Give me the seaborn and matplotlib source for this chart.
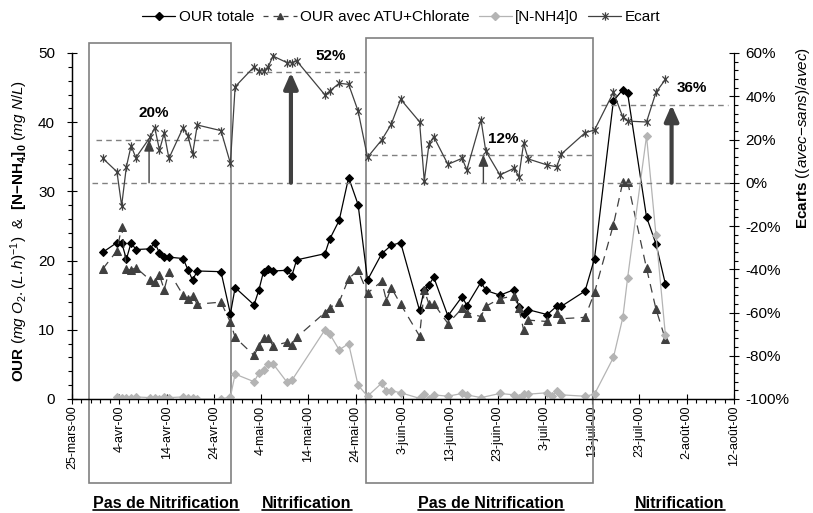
import pandas as pd
import matplotlib
matplotlib.use('Agg')
import matplotlib.pyplot as plt
import matplotlib.dates as mdates
import seaborn as sns
from matplotlib.patches import Rectangle
from matplotlib.lines import Line2D
from matplotlib.path import Path
from matplotlib.ticker import FixedLocator, MultipleLocator, PercentFormatter

# jours comptes depuis le 25 mars 2000
debut = pd.Timestamp('2000-03-25')
fin = pd.Timestamp('2000-08-12')

jours_our = [6, 9, 10, 11, 12, 13, 16, 17, 18, 19, 20, 23, 24, 25, 26, 31, 33, 34,
             38, 39, 40, 41, 42, 45, 46, 47, 53, 54, 56, 58, 60, 62, 65, 67, 69,
             73, 74, 75, 76, 79, 82, 83, 86, 87, 90, 93, 94, 95, 96, 100, 102, 103,
             108, 110, 114, 116, 117, 121, 123, 125]
our_totale = [21.2, 22.6, 22.6, 20.2, 22.6, 21.6, 21.7, 22.6, 21.1, 20.5, 20.5,
              20.3, 18.7, 17.2, 18.5, 18.4, 12.3, 16.1, 13.6, 15.7, 18.4, 18.8, 18.5,
              18.6, 17.8, 20.1, 21.0, 23.1, 25.8, 32.0, 28.1, 17.2, 21.0, 22.2, 22.6,
              12.8, 15.8, 16.5, 17.6, 12.0, 14.8, 13.5, 16.9, 15.7, 15.0, 15.8, 13.3,
              12.3, 12.9, 12.2, 13.4, 13.4, 15.6, 20.3, 43.1, 44.7, 44.2, 26.3, 22.4, 16.6]

jours_atu = [6, 9, 10, 11, 12, 13, 16, 17, 18, 19, 20, 23, 24, 25, 26, 31, 33, 34,
             38, 39, 40, 41, 42, 45, 46, 47, 53, 54, 56, 58, 60, 62, 65, 66, 67, 69,
             73, 74, 75, 76, 79, 82, 83, 86, 87, 90, 93, 94, 95, 96, 100, 102, 103,
             108, 110, 114, 116, 117, 121, 123, 125]
our_atu = [18.8, 21.4, 24.9, 18.8, 18.6, 19.0, 17.2, 16.9, 17.9, 15.8, 18.4, 15.0,
           14.5, 14.9, 13.7, 14.0, 11.1, 8.9, 6.3, 7.6, 8.8, 8.8, 7.7, 8.2, 7.8, 8.9,
           12.5, 13.2, 14.0, 17.4, 18.6, 15.3, 17.0, 14.2, 16.1, 13.7, 9.1, 15.7, 13.7,
           13.8, 10.9, 13.1, 12.5, 11.9, 13.4, 14.5, 14.9, 13.1, 10.0, 11.4, 11.2, 12.4,
           11.6, 11.8, 15.4, 25.2, 31.4, 31.4, 18.9, 13.0, 8.6]

jours_nh4 = [9, 10, 11, 12, 13, 16, 17, 18, 19, 20, 23, 24, 25, 26, 31, 33, 34,
             38, 39, 40, 41, 42, 45, 46, 53, 54, 56, 58, 60, 62, 65, 66, 67, 69,
             73, 74, 75, 76, 79, 82, 83, 86, 90, 93, 94, 95, 96, 100, 101, 102, 103,
             108, 110, 114, 116, 117, 121, 123, 125]
nh4 = [0.3, 0.1, 0.1, 0.2, 0.3, 0.2, 0.1, 0.0, 0.3, 0.2, 0.3, 0.2, 0.1, 0.0, 0.0,
       0.3, 3.6, 2.5, 3.7, 4.2, 5.0, 5.1, 2.4, 2.7, 10.0, 9.4, 7.1, 8.0, 2.0, 0.4,
       2.3, 1.1, 1.2, 0.9, 0.1, 0.7, 0.0, 0.6, 0.4, 0.8, 0.6, 0.2, 0.8, 0.6, 0.1,
       0.7, 0.7, 0.9, 0.4, 1.1, 0.6, 0.4, 0.7, 6.0, 11.8, 17.5, 38.0, 23.7, 9.2]

jours_ecart = jours_our
ecart = [11.3, 5.1, -10.6, 7.4, 17.1, 11.6, 21.0, 25.5, 15.1, 22.9, 11.3, 25.5, 21.8,
         13.3, 26.7, 24.1, 9.0, 44.4, 53.6, 51.7, 51.8, 53.6, 58.6, 55.5, 55.5, 56.4,
         40.6, 42.4, 46.0, 45.5, 33.2, 11.8, 19.8, 27.0, 38.6, 28.2, 0.9, 17.9, 21.3,
         8.5, 11.3, 5.9, 29.0, 14.7, 3.6, 6.7, 2.8, 18.2, 11.0, 8.2, 7.4, 13.3, 23.1,
         24.4, 41.8, 30.3, 28.5, 28.1, 41.8, 47.8]

tick_labels = ['25-mars-00', '4-avr-00', '14-avr-00', '24-avr-00', '4-mai-00',
               '14-mai-00', '24-mai-00', '3-juin-00', '13-juin-00', '23-juin-00',
               '3-juil-00', '13-juil-00', '23-juil-00', '2-août-00', '12-août-00']

# periodes sans nitrification (encadrees), en jours
periodes = [(3.6, 33.6), (62.2, 110.1)]
# ecarts moyens par periode
niveaux = [20, 51, 13, 36]
niveaux_txt = ['20%', '52%', '12%', '36%']
niveaux_de = [5.1, 34.9, 63.4, 111.8]
niveaux_a = [31.9, 62.2, 110.0, 138.7]
fleches = [16.3, 46.3, 87.0, 126.8]
periodes_txt = ['Pas de Nitrification', 'Nitrification', 'Pas de Nitrification', 'Nitrification']


def en_dates(jours):
    # Excel place les points entre les graduations -> +12 h
    return debut + pd.to_timedelta(jours, unit='D') + pd.Timedelta(hours=12)


def num(j):
    return mdates.date2num(debut + pd.Timedelta(days=j))


sns.set_style('white')
plt.rcParams['font.family'] = ['Liberation Sans', 'DejaVu Sans']
plt.rcParams['axes.unicode_minus'] = False
plt.rcParams['mathtext.fontset'] = 'custom'
plt.rcParams['mathtext.rm'] = 'Liberation Sans'
plt.rcParams['mathtext.it'] = 'Liberation Sans:italic'
plt.rcParams['mathtext.bf'] = 'Liberation Sans:bold'
for k in ['text.color', 'axes.labelcolor', 'xtick.color', 'ytick.color']:
    plt.rcParams[k] = 'black'

W, H = 813, 513
fig = plt.figure(figsize=(W / 100, H / 100), dpi=100)
ax = fig.add_axes([72 / W, 1 - 399 / H, 662 / W, 346 / H])
ax2 = ax.twinx()

noir = '#000000'
gris_fonce = '#404040'
gris_clair = '#b4b4b4'
etoile = Path([(0, -1), (0, 1), (-0.75, -0.75), (0.75, 0.75), (-0.75, 0.75), (0.75, -0.75)],
              [Path.MOVETO, Path.LINETO] * 3)

sns.lineplot(x=en_dates(jours_our), y=our_totale, ax=ax, color=noir, lw=0.9,
             marker='D', ms=4.5, mec=noir, mfc=noir, estimator=None, sort=False, legend=False, zorder=3)
sns.lineplot(x=en_dates(jours_atu), y=our_atu, ax=ax, color=gris_fonce, lw=0.9,
             linestyle=(0, (7, 5)), marker='^', ms=5.5, mec=gris_fonce, mfc=gris_fonce,
             estimator=None, sort=False, legend=False, zorder=3)
sns.lineplot(x=en_dates(jours_nh4), y=nh4, ax=ax, color=gris_clair, lw=0.9,
             marker='D', ms=4.5, mec=gris_clair, mfc=gris_clair, estimator=None, sort=False,
             legend=False, zorder=3)
sns.lineplot(x=en_dates(jours_ecart), y=ecart, ax=ax2, color=gris_fonce, lw=0.9,
             marker=etoile, ms=6, mew=0.9, mec=gris_fonce, estimator=None, sort=False,
             legend=False, zorder=4)

# lignes de reference et fleches
ax2.hlines(0, num(4.2), num(139.1), colors='#808080', linestyles=(0, (4, 3)), lw=1, zorder=1)
for niv, txt, d, a, f in zip(niveaux, niveaux_txt, niveaux_de, niveaux_a, fleches):
    ax2.hlines(niv, num(d), num(a), colors='#808080', linestyles=(0, (4, 3)), lw=1, zorder=1)
    epais = niv > 30
    style = '-|>,head_length=0.95,head_width=0.42' if epais else '-|>,head_length=0.7,head_width=0.3'
    ax2.annotate('', xy=(num(f), niv), xytext=(num(f), 0),
                 arrowprops=dict(arrowstyle=style, color=gris_fonce, lw=3 if epais else 1,
                                 mutation_scale=10, shrinkA=0, shrinkB=0), zorder=2)

pos_txt = [(17.2, 32.4), (54.7, 58.7), (91.2, 20.2), (131.1, 44.0)]
for txt, (px, py) in zip(niveaux_txt, pos_txt):
    ax2.text(num(px), py, txt, ha='center', va='center', fontsize=11, fontweight='bold')

# cadres des periodes sans nitrification
for (d, a), haut in zip(periodes, [1.029, 1.043]):
    ax.add_patch(Rectangle((num(d), -0.243), num(a) - num(d), haut + 0.243,
                           transform=ax.get_xaxis_transform(), fill=False,
                           ec='#808080', lw=1.2, clip_on=False, zorder=1))

# axes
ax.set_xlim(debut, fin)
ax.set_ylim(0, 50)
ax2.set_ylim(-100, 60)
ax.xaxis.set_major_locator(FixedLocator(mdates.date2num(pd.date_range(debut, fin, freq='10D'))))
ax.xaxis.set_minor_locator(FixedLocator(mdates.date2num(pd.date_range(debut, fin, freq='2D'))))
ax.set_xticklabels(tick_labels, rotation=90)
ax.yaxis.set_major_locator(MultipleLocator(10))
ax.yaxis.set_minor_locator(MultipleLocator(2))
ax2.yaxis.set_major_locator(MultipleLocator(20))
ax2.yaxis.set_minor_locator(MultipleLocator(4))
ax2.yaxis.set_major_formatter(PercentFormatter(100, decimals=0))
ax.set_xlabel('')
ax.set_ylabel('')
ax2.set_ylabel('')

for a in (ax, ax2):
    a.spines['top'].set_visible(False)
    for s in a.spines.values():
        s.set_color('black')
        s.set_linewidth(0.9)
ax.spines['right'].set_visible(False)

ax.tick_params(axis='both', which='major', direction='inout', length=6.5, width=0.8, color='black')
ax.tick_params(axis='both', which='minor', direction='out', length=3, width=0.8, color='black')
ax.tick_params(axis='y', which='both', left=True, labelsize=11, pad=9)
ax.tick_params(axis='x', which='both', bottom=True, labelsize=9, pad=1.5)
ax2.tick_params(axis='y', which='major', direction='inout', length=6.5, width=0.8, right=True,
                labelsize=11, pad=5)
ax2.tick_params(axis='y', which='minor', direction='out', length=3, width=0.8, right=True)

# titres des axes
fig.text(19 / W, 1 - 231 / H,
         r'$\mathbf{OUR}$ $\mathit{(mg\ O_2.(L.h)^{-1})}$  &  $\mathbf{[N{-}NH_4]_0}$ $\mathit{(mg\ N/L)}$',
         rotation=90, ha='center', va='center', fontsize=11)
fig.text(803 / W, 1 - 138 / H, r'$\mathbf{Ecarts}$ $\mathit{((avec{-}sans)/avec)}$',
         rotation=90, ha='center', va='center', fontsize=11)

# legende
poignees = [
    Line2D([], [], color=noir, lw=0.9, marker='D', ms=4, mfc=noir, mec=noir),
    Line2D([], [], color=gris_fonce, lw=0.9, ls=(0, (4, 4)), marker='^', ms=5, mfc=gris_fonce, mec=gris_fonce),
    Line2D([], [], color=gris_clair, lw=0.9, marker='D', ms=4, mfc=gris_clair, mec=gris_clair),
    Line2D([], [], color=gris_fonce, lw=0.9, marker=etoile, ms=6, mew=0.9, mec=gris_fonce),
]
fig.legend(poignees, ['OUR totale', 'OUR avec ATU+Chlorate', '[N-NH4]0', 'Ecart'],
           loc='center', bbox_to_anchor=(401 / W, 1 - 17 / H), ncol=4, frameon=False,
           fontsize=11, handlelength=2.2, handletextpad=0.2, columnspacing=0.6)

# libelles des periodes, soulignes
textes = []
for txt, cx in zip(periodes_txt, [166, 307, 491, 680]):
    textes.append(fig.text(cx / W, 1 - 503 / H, txt, ha='center', va='center',
                           fontsize=11.5, fontweight='bold'))
fig.canvas.draw()
rend = fig.canvas.get_renderer()
for t in textes:
    bb = t.get_window_extent(renderer=rend)
    fig.add_artist(Line2D([bb.x0 / W, bb.x1 / W], [(bb.y0 + 0.5) / H] * 2,
                          transform=fig.transFigure, color='black', lw=1.2))

fig.savefig('out.png', dpi=100)
